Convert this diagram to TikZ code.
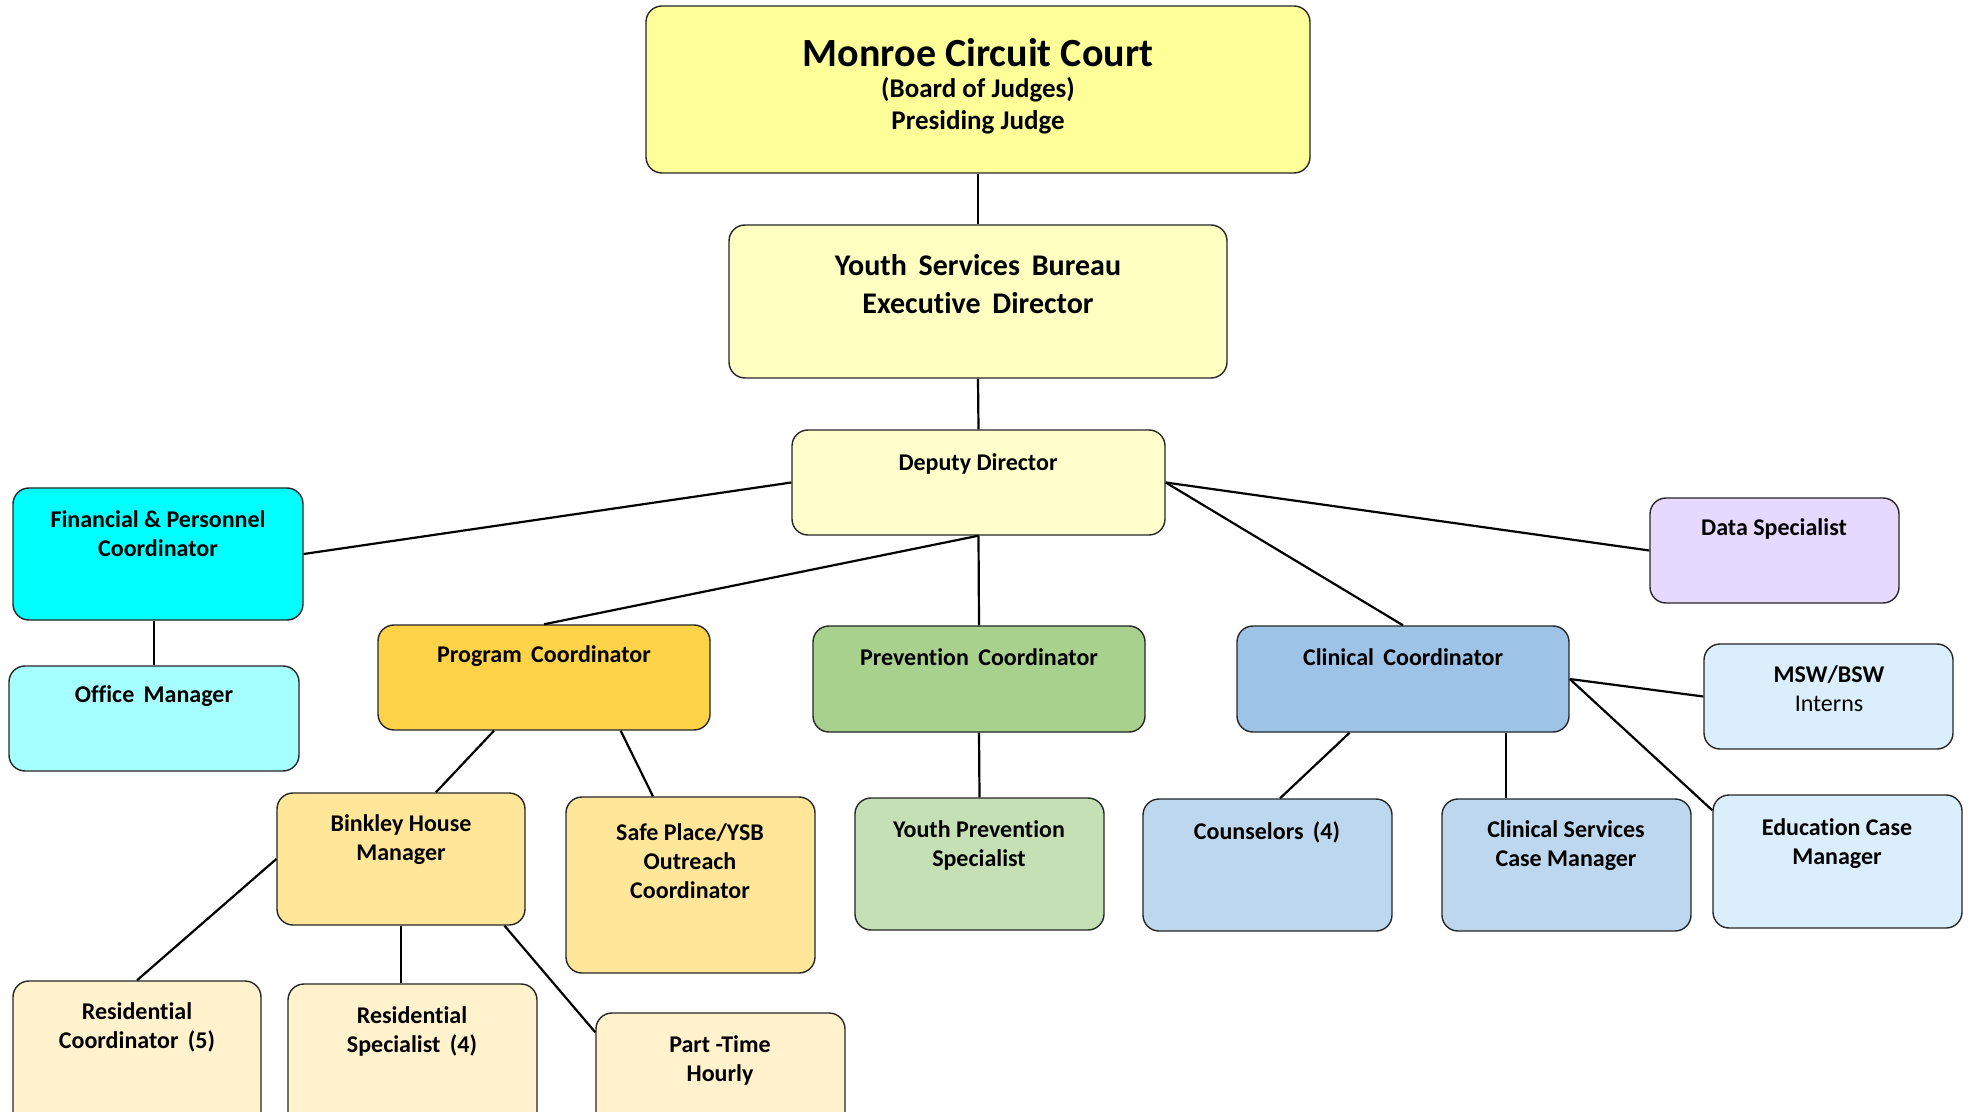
\documentclass[tikz,border=0pt]{standalone}
\usepackage{fontspec}
\setmainfont{Carlito}[Ligatures=NoCommon]
\usetikzlibrary{fit,calc}
\definecolor{courtfill}{HTML}{FFFF99}
\definecolor{execfill}{HTML}{FFFFC2}
\definecolor{deputyfill}{HTML}{FFFFCC}
\definecolor{finfill}{HTML}{00FFFF}
\definecolor{officefill}{HTML}{A6FFFF}
\definecolor{progfill}{HTML}{FFD347}
\definecolor{houfill}{HTML}{FFE699}
\definecolor{resfill}{HTML}{FFF2CC}
\definecolor{prevfill}{HTML}{A9D18E}
\definecolor{ypsfill}{HTML}{C5E0B4}
\definecolor{clinfill}{HTML}{9DC3E6}
\definecolor{cstafffill}{HTML}{BDD7EE}
\definecolor{palefill}{HTML}{DAEEFC}
\definecolor{datafill}{HTML}{E5D9FF}
\tikzset{box/.style={draw=black!85, line width=0.7pt, rounded corners=8pt, inner sep=0pt}}
\tikzset{txt/.style={font=\bfseries\fontsize{12}{14.5}\selectfont, align=center, inner sep=0pt}}
\tikzset{link/.style={draw=black, line width=1.1pt}}

\begin{document}
\begin{tikzpicture}[x=0.5pt,y=-0.5pt]
  \useasboundingbox (0,0) rectangle (1971,1112);
  \clip (0,0) rectangle (1971,1112);
  % top of the tree
  \node[box, fill=courtfill, fit={(646,6) (1310,173)}] (court) {};
  \node[txt, font=\bfseries\fontsize{20}{22}\selectfont] (court-t) at (978,53) {Monroe Circuit Court};
  \node[txt, font=\bfseries\fontsize{13.5}{16}\selectfont] (court-s) at (978,106) {(Board of Judges)\\Presiding Judge};
  \node[box, fill=execfill, fit={(729,225) (1227,378)}] (exec) {};
  \node[txt, font=\bfseries\fontsize{15}{19}\selectfont] (exec-t) at (978,284) {Youth\, Services\, Bureau\\Executive\, Director};
  \node[box, fill=deputyfill, fit={(792,430) (1165,535)}] (deputy) {};
  \node[txt] (deputy-t) at (978,464) {Deputy Director};
  % second row
  \node[box, fill=finfill, fit={(13,488) (303,620)}] (fin) {};
  \node[txt] (fin-t) at (158,534) {Financial \& Personnel\\Coordinator};
  \node[box, fill=officefill, fit={(9,666) (299,771)}] (office) {};
  \node[txt] (office-t) at (154,696) {Office\, Manager};
  \node[box, fill=progfill, fit={(378,625) (710,730)}] (prog) {};
  \node[txt] (prog-t) at (544,656) {Program\, Coordinator};
  \node[box, fill=prevfill, fit={(813,626) (1145,732)}] (prev) {};
  \node[txt] (prev-t) at (979,657) {Prevention\, Coordinator};
  \node[box, fill=clinfill, fit={(1237,626) (1569,732)}] (clin) {};
  \node[txt] (clin-t) at (1403,657) {Clinical\, Coordinator};
  \node[box, fill=datafill, fit={(1650,498) (1899,603)}] (data) {};
  \node[txt] (data-t) at (1774,529) {Data Specialist};
  \node[box, fill=palefill, fit={(1704,644) (1953,749)}] (msw) {};
  \node[txt] (msw-t) at (1829,689) {MSW/BSW\\\mdseries Interns};
  % third row
  \node[box, fill=houfill, fit={(277,793) (525,925)}] (binkley) {};
  \node[txt] (binkley-t) at (401,840) {Binkley House\\Manager};
  \node[box, fill=houfill, fit={(566,797) (815,973)}] (safe) {};
  \node[txt] (safe-t) at (690,861) {Safe Place/YSB\\Outreach\\Coordinator};
  \node[box, fill=ypsfill, fit={(855,798) (1104,930)}] (yps) {};
  \node[txt] (yps-t) at (979,845) {Youth Prevention\\Specialist};
  \node[box, fill=cstafffill, fit={(1143,799) (1392,931)}] (couns) {};
  \node[txt] (couns-t) at (1267,832) {Counselors\, (4)};
  \node[box, fill=cstafffill, fit={(1442,799) (1691,931)}] (clinsvc) {};
  \node[txt] (clinsvc-t) at (1566,846) {Clinical Services\\Case Manager};
  \node[box, fill=palefill, fit={(1713,795) (1962,928)}] (educ) {};
  \node[txt] (educ-t) at (1837,844) {Education Case\\Manager};
  % bottom row
  \node[box, fill=resfill, fit={(13,981) (261,1140)}] (rescoord) {};
  \node[txt] (rescoord-t) at (137,1027) {Residential\\Coordinator\, (5)};
  \node[box, fill=resfill, fit={(288,984) (537,1140)}] (resspec) {};
  \node[txt] (resspec-t) at (412,1031) {Residential\\Specialist\, (4)};
  \node[box, fill=resfill, fit={(596,1013) (845,1140)}] (parttime) {};
  \node[txt] (parttime-t) at (720,1060) {Part -Time\\Hourly};
  % connectors
  \draw[link] (court.south) -- (exec.north);
  \draw[link] (exec.south) -- (deputy.north);
  \draw[link] (deputy.west) -- (fin.east);
  \draw[link] (deputy.south) -- (prog.north);
  \draw[link] (deputy.south) -- (prev.north);
  \draw[link] (deputy.east) -- (clin.north);
  \draw[link] (deputy.east) -- (data.west);
  \draw[link] (office.north |- fin.south) -- (office.north);
  \draw[link] ($(prog.south west)!0.35!(prog.south east)$) -- ($(binkley.north west)!0.64!(binkley.north east)$);
  \draw[link] ($(prog.south west)!0.73!(prog.south east)$) -- ($(safe.north west)!0.35!(safe.north east)$);
  \draw[link] (binkley.west) -- (rescoord.north);
  \draw[link] (binkley.south) -- (binkley.south |- resspec.north);
  \draw[link] ($(binkley.south west)!0.915!(binkley.south east)$) -- ([yshift=-10pt]parttime.north west);
  \draw[link] (prev.south) -- (yps.north);
  \coordinate (clin-a) at ($(clin.south west)!0.34!(clin.south east)$);
  \coordinate (clin-b) at ($(clin.south west)!0.81!(clin.south east)$);
  \draw[link] (clin-a) -- ($(couns.north west)!0.55!(couns.north east)$);
  \draw[link] (clin-b) -- (clin-b |- clinsvc.north);
  \draw[link] (clin.east) -- (msw.west);
  \draw[link] (clin.east) -- ([yshift=-8pt]educ.north west);
\end{tikzpicture}
\end{document}
